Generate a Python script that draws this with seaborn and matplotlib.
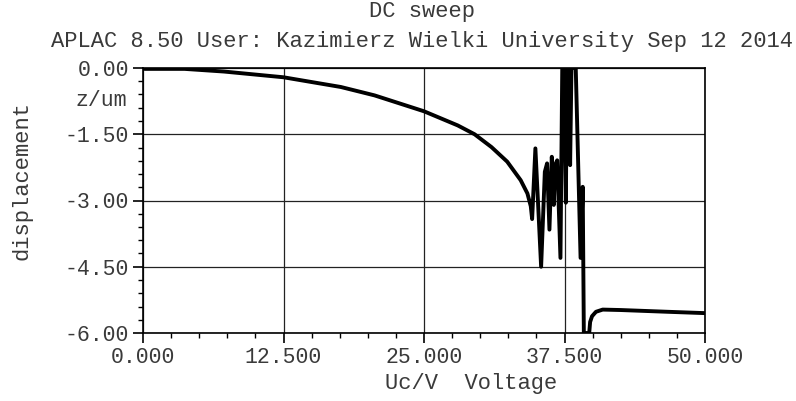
import numpy as np
import pandas as pd
import matplotlib
matplotlib.use('Agg')
import matplotlib.pyplot as plt
from matplotlib.ticker import MultipleLocator, FormatStrFormatter
import seaborn as sns

# DC sweep: displacement z (um) vs control voltage Uc (V)
voltage = [0.0, 0.15, 3.7, 7.2, 12.5, 17.6, 20.6, 25.0, 28.0, 29.5, 31.0, 32.4,
           33.6, 34.2, 34.5, 34.62,
           34.91, 35.42, 35.75, 35.95, 36.16, 36.37, 36.55, 36.65, 36.85, 37.14,
           37.30, 37.45, 37.62, 37.72, 37.90, 38.00, 38.12, 38.50, 38.93, 39.12,
           39.22, 39.70, 39.78, 39.95, 40.30, 40.90, 42.50, 46.70, 50.0]
displacement = [0.0, -0.02, -0.02, -0.08, -0.21, -0.43, -0.62, -0.98, -1.30, -1.50, -1.79, -2.12,
                -2.54, -2.84, -3.13, -3.42,
                -1.82, -4.50, -2.35, -2.16, -3.66, -2.01, -3.10, -2.20, -2.09, -4.30,
                0.0, 0.0, -3.05, 0.0, 0.0, -2.20, 0.0, 0.0, -4.30, -2.69,
                -6.0, -6.0, -5.75, -5.62, -5.52, -5.47, -5.48, -5.52, -5.55]

x_ticks = [0.0, 12.5, 25.0, 37.5, 50.0]
y_ticks = [0.0, -1.5, -3.0, -4.5, -6.0]

title_1 = 'DC sweep'
title_2 = 'APLAC 8.50 User: Kazimierz Wielki University Sep 12 2014'

sns.set_theme(style='white')
plt.rcParams['font.family'] = ['Liberation Mono', 'DejaVu Sans Mono']
plt.rcParams['axes.unicode_minus'] = False

text_color = '#3a3a3a'
fs_tick = 15.5
fs_text = 15.9

fig = plt.figure(figsize=(7.96, 4.01), dpi=100)
ax = fig.add_axes([143 / 796, 1 - 333 / 401, 562 / 796, 265 / 401])

df = pd.DataFrame({'Uc': voltage, 'z': displacement})
sns.lineplot(data=df, x='Uc', y='z', sort=False, estimator=None, color='black',
             linewidth=2.8, ax=ax)

ax.set_xlim(0, 50)
ax.set_ylim(-6, 0)
ax.set_xticks(x_ticks)
ax.set_yticks(y_ticks)
ax.xaxis.set_minor_locator(MultipleLocator(2.5))
ax.yaxis.set_minor_locator(MultipleLocator(0.3))
ax.xaxis.set_major_formatter(FormatStrFormatter('%.3f'))
ax.yaxis.set_major_formatter(FormatStrFormatter('%.2f'))
ax.tick_params(which='major', direction='out', length=7, width=1.2, color='black',
               labelsize=fs_tick, labelcolor=text_color, pad=3,
               bottom=True, left=True)
ax.tick_params(which='minor', direction='out', length=3.5, width=1.0, color='black',
               bottom=True, left=True)
ax.grid(True, which='major', color='#222222', linewidth=0.9)
for s in ax.spines.values():
    s.set_color('black')
    s.set_linewidth(1.2)

ax.set_xlabel('')
ax.set_ylabel('')
fig.text(471 / 796, 1 - 383 / 401, 'Uc/V  Voltage', ha='center', va='center',
         fontsize=fs_text, color=text_color)
fig.text(22 / 796, 1 - 181 / 401, 'displacement', rotation=90, ha='center',
         va='center', fontsize=fs_text, color=text_color)
fig.text(127 / 796, 1 - 101 / 401, 'z/um', ha='right', va='center',
         fontsize=fs_tick, color=text_color)
fig.text(422 / 796, 1 - 12 / 401, title_1, ha='center', va='center',
         fontsize=fs_text, color=text_color)
fig.text(422 / 796, 1 - 41 / 401, title_2, ha='center', va='center',
         fontsize=fs_text, color=text_color)

fig.savefig('out.png', dpi=100)
